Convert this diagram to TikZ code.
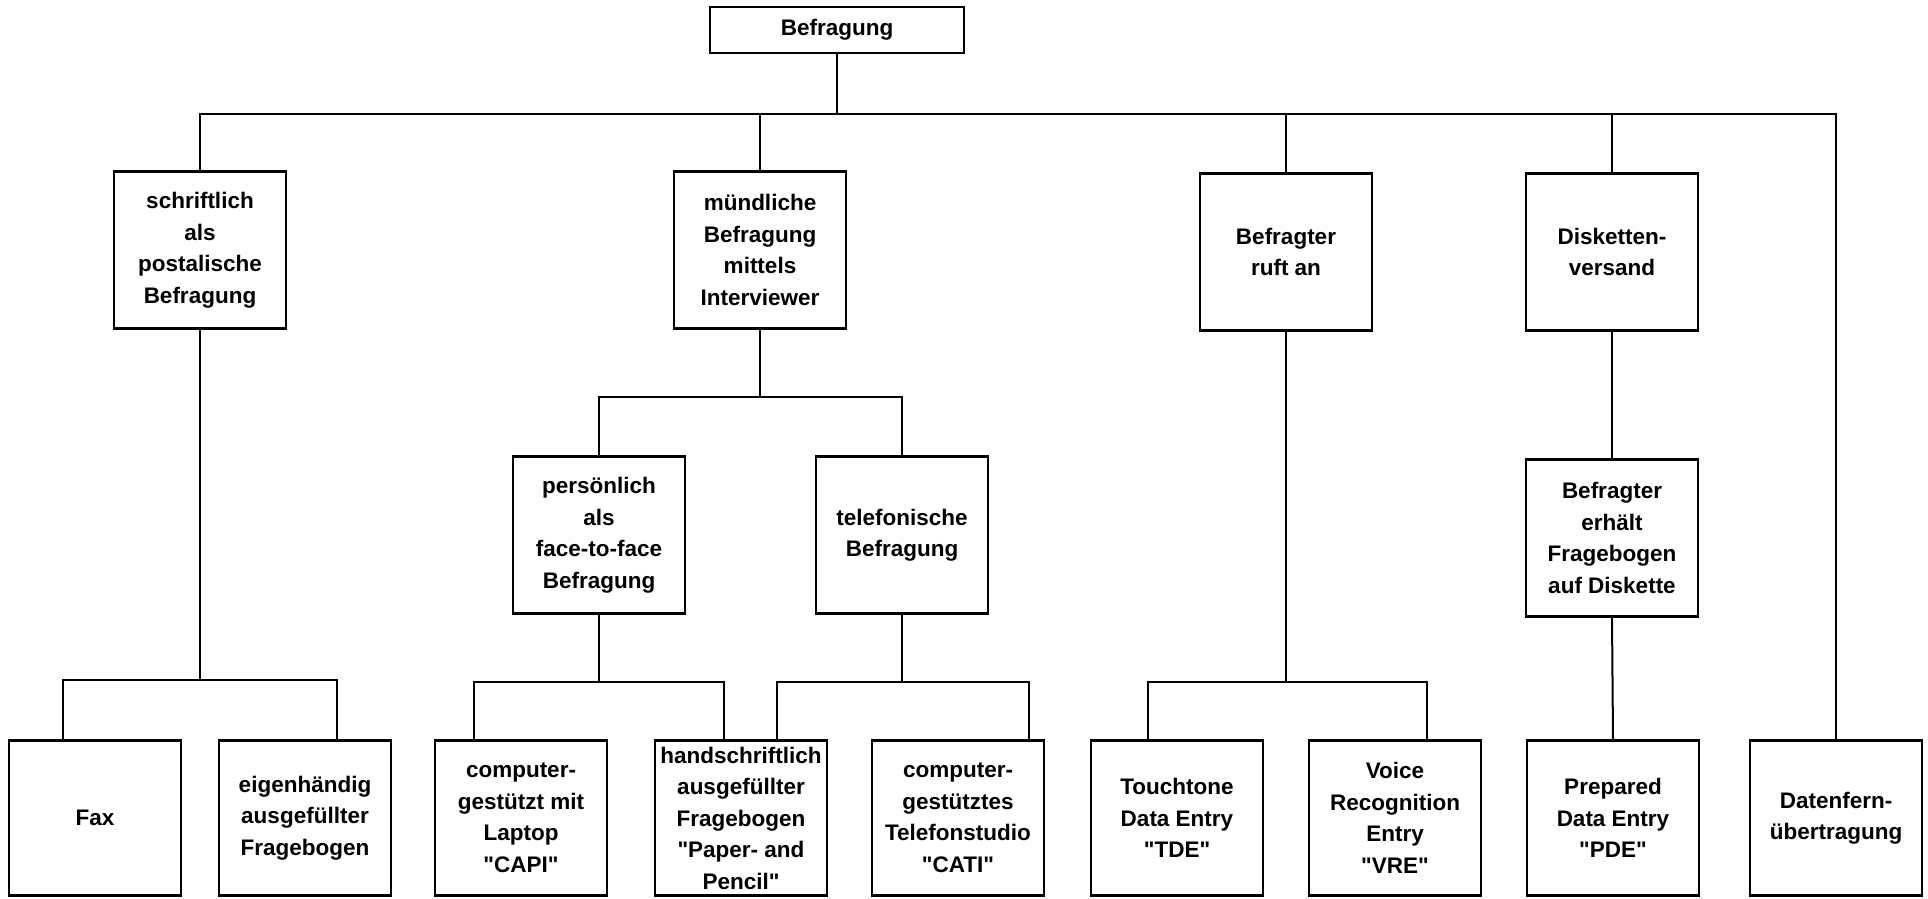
\documentclass[tikz,border=0pt]{standalone}
\usepackage{fontspec}
\setmainfont{Liberation Sans}[Ligatures=TeXOff]
\usetikzlibrary{calc}

\tikzset{
  kasten/.style={draw, line width=2.4pt, align=center, inner sep=0pt,
    minimum width=172pt, minimum height=157pt,
    font=\bfseries\fontsize{22.5}{31.5}\selectfont},
  unten/.style={kasten, minimum height=155pt},
  linie/.style={line width=2pt}
}

\begin{document}
\begin{tikzpicture}[x=1pt,y=-1pt]

	\useasboundingbox (0,0) rectangle (1928,898);

	\node[kasten, minimum width=254pt, minimum height=46pt] (bef) at (837,30) {Befragung};

	\node[kasten] (schr) at (200,250) {schriftlich\\als\\postalische\\Befragung};
	\node[kasten] (muend) at (760,250) {mündliche\\Befragung\\mittels\\Interviewer};
	\node[kasten] (ruft) at (1286,252) {Befragter\\ruft an};
	\node[kasten] (disk) at (1612,252) {Disketten-\\versand};

	\node[kasten] (pers) at (599,535) {persönlich\\als\\face-to-face\\Befragung};
	\node[kasten] (tel) at (902,535) {telefonische\\Befragung};
	\node[kasten] (erh) at (1612,538) {Befragter\\erhält\\Fragebogen\\auf Diskette};

	\node[unten] (fax) at (95,818) {Fax};
	\node[unten] (eig) at (305,818) {eigenhändig\\ausgefüllter\\Fragebogen};
	\node[unten] (capi) at (521,818) {computer-\\gestützt mit\\Laptop\\"CAPI"};
	\node[unten] (pap) at (741,818) {handschriftlich\\ausgefüllter\\Fragebogen\\"Paper- and\\Pencil"};
	\node[unten] (cati) at (958,818) {computer-\\gestütztes\\Telefonstudio\\"CATI"};
	\node[unten] (tde) at (1177,818) {Touchtone\\Data Entry\\"TDE"};
	\node[unten] (vre) at (1395,818) {Voice\\Recognition\\Entry\\"VRE"};
	\node[unten] (pde) at (1613,818) {Prepared\\Data Entry\\"PDE"};
	\node[unten] (dfu) at (1836,818) {Datenfern-\\übertragung};

	\draw[linie] (bef.south) -- ++(0,60) coordinate (b0);
	\draw[linie] (schr.north) |- (b0) -| (dfu.north);
	\foreach \n in {muend,ruft,disk}
		\draw[linie] (\n.north) -- (\n.north |- b0);

	\draw[linie] (schr.south) -- ++(0,350) coordinate (b1);
	\draw[linie] ([xshift=-32pt]fax.north) |- (b1) -| ([xshift=32pt]eig.north);

	\draw[linie] (muend.south) -- ++(0,67.5) coordinate (b2);
	\draw[linie] (pers.north) |- (b2) -| (tel.north);

	\draw[linie] (pers.south) -- ++(0,67.5) coordinate (b3);
	\draw[linie] ([xshift=-47pt]capi.north) |- (b3) -| ([xshift=-17pt]pap.north);

	\draw[linie] (tel.south) -- ++(0,67.5) coordinate (b4);
	\draw[linie] ([xshift=36pt]pap.north) |- (b4) -| ([xshift=71pt]cati.north);

	\draw[linie] (ruft.south) -- ++(0,350) coordinate (b5);
	\draw[linie] ([xshift=-29pt]tde.north) |- (b5) -| ([xshift=32pt]vre.north);

	\draw[linie] (disk.south) -- (erh.north);
	\draw[linie] (erh.south) -- (pde.north);

\end{tikzpicture}
\end{document}
